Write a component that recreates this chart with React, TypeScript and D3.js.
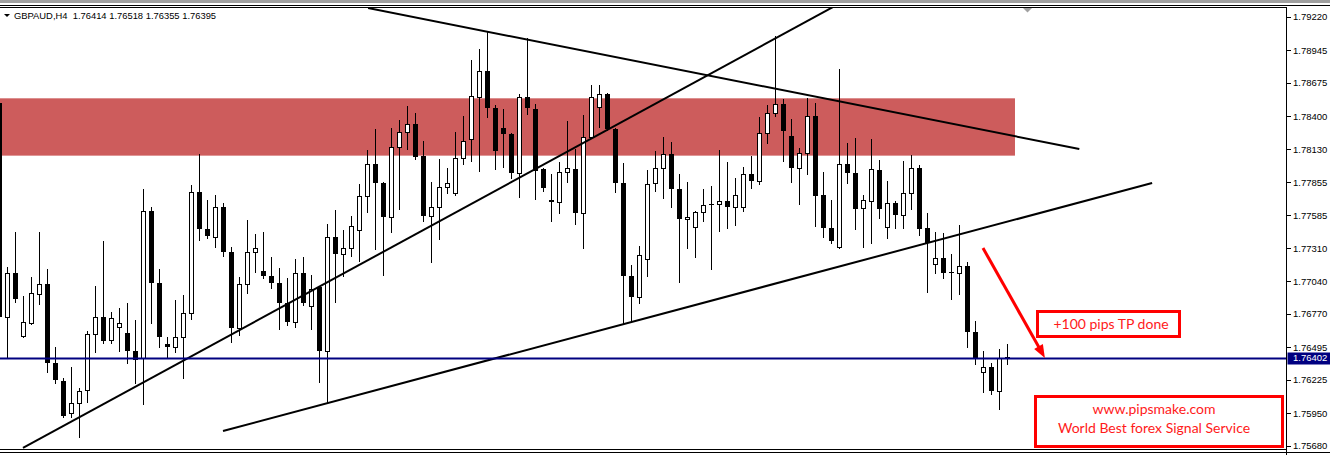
import { useEffect, useRef } from 'react'
import * as d3 from 'd3'

const symbol = 'GBPAUD,H4'
const lastQuote = ['1.76414', '1.76518', '1.76355', '1.76395']

// H4 bars, oldest first
const opens = [
  1.78510, 1.76745, 1.77108, 1.76588, 1.76695, 1.76935, 1.77017, 1.76365, 1.76217, 1.75953,
  1.76035, 1.76143, 1.76604, 1.76745, 1.76555, 1.76662, 1.76613, 1.76464, 1.76407, 1.77619,
  1.77025, 1.76522, 1.76497, 1.76580, 1.76778, 1.77776, 1.77471, 1.77405, 1.77652, 1.77281,
  1.76654, 1.77017, 1.77281, 1.77124, 1.77083, 1.77025, 1.76860, 1.76704, 1.77108, 1.76836,
  1.76992, 1.76464, 1.77405, 1.77265, 1.77314, 1.77463, 1.77743, 1.78007, 1.77850, 1.77570,
  1.78147, 1.78271, 1.78337, 1.78073, 1.77578, 1.77652, 1.77817, 1.77768, 1.78057, 1.78213,
  1.78560, 1.78774, 1.78469, 1.78304, 1.78255, 1.77933, 1.78560, 1.78461, 1.77966, 1.77710,
  1.77694, 1.77941, 1.77966, 1.77603, 1.78230, 1.78477, 1.78585, 1.78296, 1.77850, 1.77083,
  1.76910, 1.77223, 1.77850, 1.77974, 1.78090, 1.77801, 1.77553, 1.77487, 1.77611, 1.77677,
  1.77677, 1.77702, 1.77652, 1.77652, 1.77925, 1.77867, 1.78263, 1.78428, 1.78502, 1.78238,
  1.77974, 1.78098, 1.78403, 1.77751, 1.77479, 1.77322, 1.78007, 1.77933, 1.77644, 1.77702,
  1.77958, 1.77487, 1.77685, 1.77586, 1.77768, 1.77974, 1.77479, 1.77182, 1.77232, 1.77116,
  1.77108, 1.77166, 1.76621, 1.76291, 1.76332, 1.76134, 1.76414,
]
const highs = [
  1.78535, 1.77157, 1.77446, 1.76918, 1.77075, 1.77446, 1.77141, 1.76497, 1.76242, 1.76332,
  1.76159, 1.76629, 1.77001, 1.77372, 1.76786, 1.76819, 1.76860, 1.76720, 1.77801, 1.77652,
  1.77141, 1.76580, 1.76885, 1.76926, 1.77834, 1.78090, 1.77710, 1.77751, 1.77685, 1.77322,
  1.77075, 1.77545, 1.77430, 1.77446, 1.77240, 1.77149, 1.77067, 1.77223, 1.77240, 1.77091,
  1.77001, 1.77512, 1.77628, 1.77463, 1.77578, 1.77842, 1.78123, 1.78296, 1.77859, 1.78304,
  1.78370, 1.78486, 1.78428, 1.78197, 1.77859, 1.78048, 1.77974, 1.78271, 1.78403, 1.78865,
  1.78956, 1.79104, 1.78494, 1.78461, 1.78263, 1.78585, 1.79047, 1.78502, 1.77974, 1.77925,
  1.78024, 1.78362, 1.78131, 1.78411, 1.78659, 1.78659, 1.78593, 1.78304, 1.78015, 1.77174,
  1.77331, 1.77958, 1.78114, 1.78230, 1.78189, 1.77925, 1.77859, 1.77619, 1.77801, 1.77826,
  1.78123, 1.78024, 1.77892, 1.77982, 1.78073, 1.78395, 1.78494, 1.79063, 1.78543, 1.78378,
  1.78139, 1.78552, 1.78510, 1.77941, 1.77710, 1.78791, 1.78180, 1.78222, 1.77751, 1.78213,
  1.78040, 1.77867, 1.77702, 1.78032, 1.78081, 1.77999, 1.77603, 1.77446, 1.77438, 1.77265,
  1.77504, 1.77199, 1.76712, 1.76464, 1.76365, 1.76481, 1.76518,
]
const lows = [
  1.76720, 1.76407, 1.76869, 1.76580, 1.76687, 1.76852, 1.76291, 1.76200, 1.75920, 1.75920,
  1.75755, 1.76044, 1.76456, 1.76530, 1.76530, 1.76464, 1.76365, 1.76200, 1.76027, 1.76695,
  1.76497, 1.76407, 1.76456, 1.76242, 1.76728, 1.77380, 1.77397, 1.77322, 1.77248, 1.76539,
  1.76596, 1.76943, 1.77116, 1.77067, 1.76984, 1.76646, 1.76679, 1.76662, 1.76844, 1.76646,
  1.76209, 1.76035, 1.76869, 1.77083, 1.77248, 1.77207, 1.77611, 1.77306, 1.77091, 1.77446,
  1.77636, 1.78131, 1.78048, 1.77537, 1.77199, 1.77388, 1.77768, 1.77751, 1.78007, 1.78032,
  1.77949, 1.78395, 1.77966, 1.77982, 1.77892, 1.77735, 1.78420, 1.77718, 1.77784, 1.77537,
  1.77603, 1.77859, 1.77512, 1.77314, 1.78222, 1.78312, 1.78288, 1.77776, 1.76695, 1.76704,
  1.76860, 1.77083, 1.77784, 1.77727, 1.77652, 1.77034, 1.77314, 1.77240, 1.77537, 1.77141,
  1.77454, 1.77479, 1.77504, 1.77619, 1.77809, 1.77842, 1.78180, 1.78403, 1.78032, 1.77859,
  1.77677, 1.77925, 1.77496, 1.77405, 1.77355, 1.77314, 1.77850, 1.77471, 1.77322, 1.77355,
  1.77562, 1.77397, 1.77479, 1.77479, 1.77636, 1.77421, 1.76951, 1.77108, 1.77067, 1.76893,
  1.76935, 1.76497, 1.76357, 1.76126, 1.76110, 1.75986, 1.76355,
]
const closes = [
  1.76745, 1.77108, 1.76893, 1.76704, 1.76943, 1.77017, 1.76365, 1.76225, 1.75928, 1.76035,
  1.76134, 1.76604, 1.76745, 1.76547, 1.76737, 1.76695, 1.76464, 1.76390, 1.77619, 1.77025,
  1.76580, 1.76497, 1.76580, 1.76778, 1.77776, 1.77471, 1.77413, 1.77652, 1.77281, 1.76654,
  1.77017, 1.77281, 1.77314, 1.77083, 1.77025, 1.76860, 1.76704, 1.77108, 1.76860, 1.76976,
  1.76464, 1.77405, 1.77265, 1.77314, 1.77496, 1.77743, 1.78007, 1.77850, 1.77570, 1.78147,
  1.78271, 1.78337, 1.78065, 1.77578, 1.77652, 1.77817, 1.77850, 1.78057, 1.78197, 1.78568,
  1.78774, 1.78469, 1.78114, 1.78255, 1.77933, 1.78560, 1.78469, 1.77949, 1.77809, 1.77694,
  1.77941, 1.77974, 1.77603, 1.78230, 1.78560, 1.78585, 1.78296, 1.77850, 1.77083, 1.76910,
  1.77256, 1.77842, 1.77974, 1.78090, 1.77801, 1.77553, 1.77570, 1.77611, 1.77669, 1.77669,
  1.77702, 1.77652, 1.77751, 1.77925, 1.77867, 1.78263, 1.78428, 1.78502, 1.78279, 1.77974,
  1.78098, 1.78403, 1.77743, 1.77479, 1.77372, 1.78007, 1.77933, 1.77636, 1.77710, 1.77966,
  1.77636, 1.77685, 1.77586, 1.77768, 1.77974, 1.77471, 1.77355, 1.77232, 1.77108, 1.77108,
  1.77166, 1.76621, 1.76407, 1.76332, 1.76134, 1.76407, 1.76395,
]

const priceTicks = [
  1.7922, 1.78945, 1.78675, 1.784, 1.7813, 1.77855, 1.77585,
  1.7731, 1.7704, 1.7677, 1.76495, 1.76225, 1.7595, 1.7568,
]
const bidPrice = 1.76402

// supply zone rectangle
const zonePrices = [1.78549, 1.78076]
const zoneEndBar = 126.96

// trend lines as [bar, price] pairs
const trendStarts = [[2.96, 1.75664], [46.1, 1.79294], [27.96, 1.75804]]
const trendEnds = [[104.2, 1.79302], [135, 1.78131], [144.1, 1.7785]]

// red arrow
const arrowFrom = [122.96, 1.77314]
const arrowTo = [130.7, 1.76407]

const tpNote = '+100 pips TP done'
const siteNote = ['www.pipsmake.com', 'World Best forex Signal Service']

export default function App() {
  const svgRef = useRef<SVGSVGElement>(null)

  useEffect(() => {
    if (!svgRef.current) return
    document.body.style.margin = '0'

    const width = 1330
    const height = 455
    const plotRight = 1286
    const plotTop = 8
    const plotBottom = 449
    const axisFont = '"Liberation Sans", Arial, sans-serif'

    const svg = d3.select(svgRef.current)
    svg.selectAll('*').remove()
    svg.attr('width', width).attr('height', height)
      .style('display', 'block')
      .style('background', '#fff')

    const x = d3.scaleLinear().domain([0, 126]).range([-0.7, 1007.3])
    const y = d3.scaleLinear().domain([1.7568, 1.7922]).range([446, 17])
    const px = (v: number) => Math.round(v) + 0.5

    svg.append('defs').append('clipPath').attr('id', 'plot-clip')
      .append('rect')
      .attr('x', 0).attr('y', plotTop)
      .attr('width', plotRight).attr('height', plotBottom - plotTop)

    const plot = svg.append('g').attr('clip-path', 'url(#plot-clip)')

    // zone
    plot.append('rect')
      .attr('x', 0)
      .attr('y', y(zonePrices[0]))
      .attr('width', x(zoneEndBar))
      .attr('height', y(zonePrices[1]) - y(zonePrices[0]))
      .attr('fill', '#cd5c5c')

    // candles
    const bars = opens.map((o, i) => ({ i, o, h: highs[i], l: lows[i], c: closes[i] }))
    const candle = plot.selectAll('g.bar')
      .data(bars)
      .enter().append('g')
      .attr('class', 'bar')

    candle.append('line')
      .attr('x1', d => px(x(d.i)))
      .attr('x2', d => px(x(d.i)))
      .attr('y1', d => Math.round(y(d.h)))
      .attr('y2', d => Math.round(y(d.l)) + 1)
      .attr('stroke', '#000')
      .attr('stroke-width', 1)

    candle.append('rect')
      .attr('x', d => d.c >= d.o ? px(x(d.i)) - 2 : px(x(d.i)) - 2.5)
      .attr('y', d => Math.round(y(Math.max(d.o, d.c))) + (d.c >= d.o ? 0.5 : 0))
      .attr('width', d => d.c >= d.o ? 4 : 5)
      .attr('height', d => Math.max(Math.round(y(Math.min(d.o, d.c))) - Math.round(y(Math.max(d.o, d.c))), 1))
      .attr('fill', d => d.c >= d.o ? '#fff' : '#000')
      .attr('stroke', d => d.c >= d.o ? '#000' : 'none')
      .attr('stroke-width', 1)

    // trend lines
    trendStarts.forEach((s, k) => {
      const e = trendEnds[k]
      plot.append('line')
        .attr('x1', x(s[0])).attr('y1', y(s[1]))
        .attr('x2', x(e[0])).attr('y2', y(e[1]))
        .attr('stroke', '#000')
        .attr('stroke-width', 2)
    })

    // bid line
    plot.append('line')
      .attr('x1', 0).attr('x2', plotRight)
      .attr('y1', y(bidPrice)).attr('y2', y(bidPrice))
      .attr('stroke', '#000080')
      .attr('stroke-width', 2)

    // arrow
    const ax1 = x(arrowFrom[0]), ay1 = y(arrowFrom[1])
    const ax2 = x(arrowTo[0]), ay2 = y(arrowTo[1])
    const len = Math.hypot(ax2 - ax1, ay2 - ay1)
    const ux = (ax2 - ax1) / len, uy = (ay2 - ay1) / len
    const headLen = 13, headHalf = 5
    const bx = ax2 - ux * headLen, by = ay2 - uy * headLen
    plot.append('line')
      .attr('x1', ax1).attr('y1', ay1)
      .attr('x2', bx + ux * 2).attr('y2', by + uy * 2)
      .attr('stroke', '#ff0000')
      .attr('stroke-width', 3)
    plot.append('polygon')
      .attr('points', [
        [ax2, ay2],
        [bx - uy * headHalf, by + ux * headHalf],
        [bx + uy * headHalf, by - ux * headHalf],
      ].map(p => p.join(',')).join(' '))
      .attr('fill', '#ff0000')

    // notes
    const noteFont = 'Lato, "Open Sans", sans-serif'
    svg.append('rect')
      .attr('x', 1037.5).attr('y', 311.5)
      .attr('width', 142).attr('height', 25)
      .attr('fill', '#fff')
      .attr('stroke', '#ff0000')
      .attr('stroke-width', 3)
    svg.append('text')
      .attr('x', 1111).attr('y', 328.5)
      .attr('text-anchor', 'middle')
      .attr('font-family', noteFont)
      .attr('font-size', 14)
      .attr('fill', '#ff1a1a')
      .text(tpNote)

    svg.append('rect')
      .attr('x', 1035.5).attr('y', 396.5)
      .attr('width', 247).attr('height', 50)
      .attr('fill', '#fff')
      .attr('stroke', '#ff0000')
      .attr('stroke-width', 3)
    siteNote.forEach((t, k) => {
      svg.append('text')
        .attr('x', 1154).attr('y', 413.5 + k * 19)
        .attr('text-anchor', 'middle')
        .attr('font-family', noteFont)
        .attr('font-size', 14)
        .attr('fill', '#ff1a1a')
        .text(t)
    })

    // frame
    svg.append('rect').attr('x', 0).attr('y', 0).attr('width', width).attr('height', 3).attr('fill', '#a0a0a0')
    svg.append('line').attr('x1', 0).attr('x2', width).attr('y1', 5.5).attr('y2', 5.5).attr('stroke', '#000')
    svg.append('line').attr('x1', 0).attr('x2', plotRight + 1).attr('y1', 7.5).attr('y2', 7.5).attr('stroke', '#000')
    svg.append('line').attr('x1', 0).attr('x2', plotRight + 1).attr('y1', 449.5).attr('y2', 449.5).attr('stroke', '#000')
    svg.append('line').attr('x1', 0).attr('x2', width).attr('y1', 452.5).attr('y2', 452.5).attr('stroke', '#000')
    svg.append('line').attr('x1', plotRight + 0.5).attr('x2', plotRight + 0.5).attr('y1', 7).attr('y2', 455).attr('stroke', '#000')

    // shift marker
    svg.append('polygon')
      .attr('points', '1023,8 1032,8 1027.5,12.5')
      .attr('fill', '#a0a0a0')

    // price axis
    const axis = svg.append('g')
    priceTicks.forEach(t => {
      axis.append('line')
        .attr('x1', plotRight + 1).attr('x2', plotRight + 5)
        .attr('y1', px(y(t))).attr('y2', px(y(t)))
        .attr('stroke', '#000')
      axis.append('text')
        .attr('x', 1293).attr('y', y(t))
        .attr('dy', '0.36em')
        .attr('font-family', axisFont)
        .attr('font-size', 9.5)
        .attr('fill', '#000')
        .text(d3.format('.5f')(t))
    })

    // bid label
    axis.append('rect')
      .attr('x', plotRight + 1.5).attr('y', Math.round(y(bidPrice)) - 6.5)
      .attr('width', 43).attr('height', 12)
      .attr('fill', '#000080')
    axis.append('text')
      .attr('x', 1293).attr('y', y(bidPrice) - 1)
      .attr('dy', '0.36em')
      .attr('font-family', axisFont)
      .attr('font-size', 9.5)
      .attr('fill', '#fff')
      .text(d3.format('.5f')(bidPrice))

    // header
    svg.append('polygon').attr('points', '4,14 10,14 7,17').attr('fill', '#000')
    svg.append('text')
      .attr('x', 14).attr('y', 18.5)
      .attr('font-family', axisFont)
      .attr('font-size', 9.4)
      .attr('fill', '#000')
      .style('white-space', 'pre')
      .text(`${symbol}  ${lastQuote.join(' ')}`)
  }, [])

  return <svg ref={svgRef} />
}
